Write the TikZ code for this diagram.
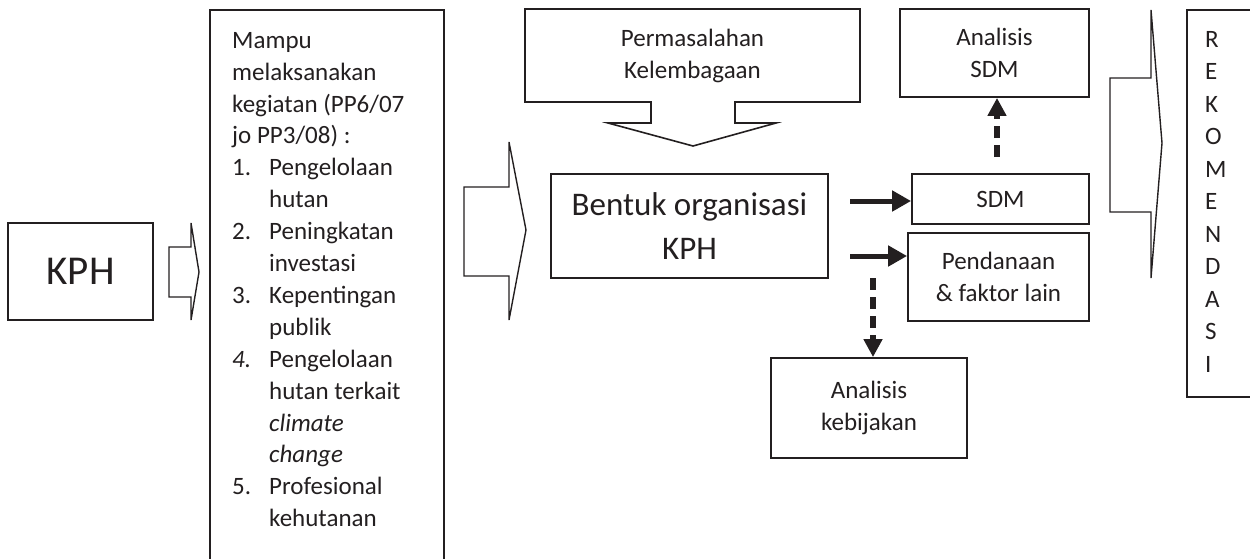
\documentclass[tikz,border=0pt]{standalone}
\usepackage{fontspec}
\setmainfont{Carlito}
\usetikzlibrary{arrows.meta}
\definecolor{ink}{RGB}{35,31,32}
% list helpers: number column and hanging indent
\newcommand\itemno[1]{\makebox[37pt][l]{#1}}
\newcommand\hangin{\hspace*{37pt}}
\begin{document}
\begin{tikzpicture}[x=1pt,y=-1pt,
  box/.style={draw=ink, line width=1.8pt, inner sep=0pt, text=ink, align=center,
    font=\fontsize{25}{32}\selectfont},
  label/.style={text=ink, inner sep=0pt, align=left},
  blockarrow/.style={draw=ink, line width=1.4pt},
  flow/.style={draw=ink, line width=5pt, -{Triangle[length=19pt,width=20pt]}},
  link/.style={draw=ink, line width=6pt, dash pattern=on 12pt off 7pt,
    -{Triangle[length=18pt,width=18pt]}},
]
\useasboundingbox (0,0) rectangle (1250,558);

% KPH and its arrow into the list of tasks
\node[box, minimum width=145pt, minimum height=97pt, font=\fontsize{41}{49}\selectfont]
  (kph) at (80.5,271.5) {KPH};
\draw[blockarrow] (169,247) -- (191,247) -- (191,223) -- (199,272) -- (191,320)
  -- (191,297) -- (169,297) -- cycle;

% list of tasks (frame runs off the bottom edge)
\node[box, anchor=north west, minimum width=234pt, minimum height=570pt] (goals) at (209,9) {};
\node[label, anchor=north west, font=\fontsize{25}{31.9}\selectfont] (goalstext) at (232,32) {%
Mampu\\%
melaksanakan\\%
kegiatan (PP6/07\\%
jo PP3/08) :\\%
\itemno{1.}Pengelolaan\\%
\hangin hutan\\%
\itemno{2.}Peningkatan\\%
\hangin investasi\\%
\itemno{3.}Kepentingan\\%
\hangin publik\\%
\itemno{\textit{4.}}Pengelolaan\\%
\hangin hutan terkait\\%
\hangin\textit{climate}\\%
\hangin\textit{change}\\%
\itemno{5.}Profesional\\%
\hangin kehutanan};

% arrow from the list to the organisation form
\draw[blockarrow] (464,187) -- (509,187) -- (509,142) -- (526,230) -- (509,320)
  -- (509,276) -- (464,276) -- cycle;

% institutional problems callout pointing down
\draw[draw=ink, line width=1.6pt] (525,9) -- (860,9) -- (860,102) -- (735,102) -- (735,123)
  -- (776,123) -- (693,146) -- (608,123) -- (651,123) -- (651,102) -- (525,102) -- cycle;
\node[label, align=center, font=\fontsize{25}{32}\selectfont] (masalah) at (692.5,56)
  {Permasalahan\\Kelembagaan};

% organisation form
\node[box, minimum width=277pt, minimum height=104pt, font=\fontsize{33}{44}\selectfont]
  (bentuk) at (689.5,226) {Bentuk organisasi\\KPH};

% right-hand boxes
\node[box, minimum width=189pt, minimum height=88pt] (asdm) at (994.5,53) {Analisis\\SDM};
\node[box, minimum width=177pt, minimum height=50pt] (sdm) at (1000.5,199) {SDM};
\node[box, minimum width=181pt, minimum height=88pt] (dana) at (998.5,277) {Pendanaan\\\& faktor lain};
\node[box, minimum width=196pt, minimum height=100pt] (bijak) at (869,408) {Analisis\\kebijakan};

% connectors
\coordinate (f1) at (850,201);
\coordinate (f2) at (850,256);
\draw[flow] (f1) -- (f1 -| sdm.west);
\draw[flow] (f2) -- (f2 -| dana.west);
\coordinate (d1) at (997,157);
\draw[link] (d1) -- (d1 |- asdm.south);
\coordinate (d2) at (873,278);
\draw[link] (d2) -- (d2 |- bijak.north);

% arrow into the recommendation column
\draw[blockarrow] (1110,78) -- (1151,78) -- (1151,10) -- (1162,143) -- (1151,278)
  -- (1151,212) -- (1110,212) -- cycle;

% recommendation column (frame runs off the right edge)
\node[box, anchor=north west, minimum width=80pt, minimum height=387pt] (rek) at (1186,9) {};
\node[label, anchor=north west, font=\fontsize{25}{32.5}\selectfont] (rektext) at (1205,31)
  {R\\E\\K\\O\\M\\E\\N\\D\\A\\S\\I};
\end{tikzpicture}
\end{document}
